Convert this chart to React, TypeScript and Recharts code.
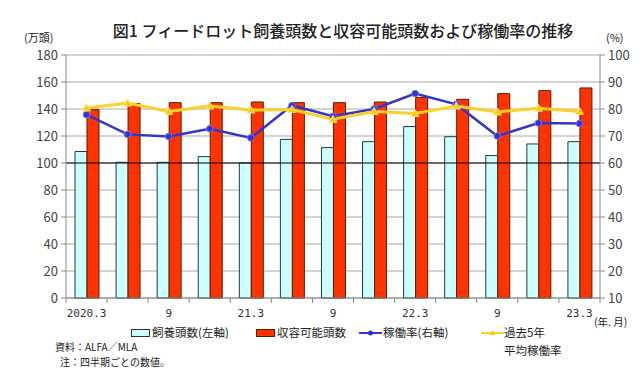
import React from 'react'
import {
  ComposedChart,
  Bar,
  Line,
  XAxis,
  YAxis,
  CartesianGrid,
  ReferenceLine,
} from 'recharts'

// 四半期
const quarters = [
  '2020.3', '2020.6', '2020.9', '2020.12',
  '2021.3', '2021.6', '2021.9', '2021.12',
  '2022.3', '2022.6', '2022.9', '2022.12',
  '2023.3',
]
const tickLabels = ['2020.3', '', '9', '', '21.3', '', '9', '', '22.3', '', '9', '', '23.3']

// 万頭
const feedlotHead = [108.5, 100.5, 100.5, 104.7, 100, 117.5, 111.4, 115.8, 127, 119.5, 105.5, 114.1, 115.8]
const capacityHead = [139.5, 144, 144.7, 144.7, 145.2, 144.7, 144.7, 145.2, 148.6, 147.2, 151.4, 153.6, 155.6]
// %
const utilization = [77.9, 70.6, 69.8, 72.7, 69.3, 81.3, 77.3, 80, 85.7, 81.7, 70, 74.8, 74.6]
const avg5y = [80.4, 82.2, 79.1, 81.1, 79.6, 79.8, 76.2, 79.1, 78.3, 81.1, 78.9, 80.3, 79.1]

const leftTicks = [0, 20, 40, 60, 80, 100, 120, 140, 160, 180]
const rightTicks = [10, 20, 30, 40, 50, 60, 70, 80, 90, 100]

const W = 640
const H = 371
const LEFT_W = 66
const RIGHT_W = 40
const BAND = (W - LEFT_W - RIGHT_W) / quarters.length

const data = quarters.map((q, i) => ({
  q,
  feedlot: feedlotHead[i],
  capacity: capacityHead[i],
  rate: utilization[i],
  avg: avg5y[i],
}))

const FONT = '"Noto Sans CJK JP", "Noto Sans", sans-serif'

function XTick(props: any) {
  const { x, y, index } = props
  const label = tickLabels[index]
  const half = BAND / 2
  return (
    <g>
      <line x1={x - half} x2={x - half} y1={y} y2={y + 5} stroke="#888" />
      {index === quarters.length - 1 && (
        <line x1={x + half} x2={x + half} y1={y} y2={y + 5} stroke="#888" />
      )}
      {label && (
        <text
          x={x}
          y={y + 19}
          textAnchor="middle"
          fontSize={11}
          fontFamily='"DejaVu Sans Mono", monospace'
          fill="#333"
        >
          {label}
        </text>
      )}
    </g>
  )
}

function Triangle(props: any) {
  const { cx, cy, index } = props
  if (cx == null || cy == null) return <g key={index} />
  return (
    <path
      key={index}
      d={`M${cx},${cy - 4} L${cx + 4},${cy + 3} L${cx - 4},${cy + 3} Z`}
      fill="#ffcc00"
      stroke="#ffe680"
      strokeWidth={1}
    />
  )
}

const abs = (left: number, top: number, extra: React.CSSProperties = {}): React.CSSProperties => ({
  position: 'absolute',
  left,
  top,
  whiteSpace: 'nowrap',
  lineHeight: 1,
  ...extra,
})

export default function App() {
  return (
    <div
      style={{
        position: 'relative',
        width: W,
        height: H,
        marginTop: -8,
        marginLeft: -8,
        background: '#fff',
        fontFamily: FONT,
        color: '#222',
        overflow: 'hidden',
      }}
    >
      <ComposedChart
        width={W}
        height={H}
        data={data}
        margin={{ top: 55, right: 0, bottom: 0, left: 0 }}
        barGap={0}
      >
        <CartesianGrid yAxisId="left" vertical={false} stroke="#a8a8a8" />
        <XAxis
          dataKey="q"
          interval={0}
          height={73}
          tickSize={0}
          tickMargin={0}
          axisLine={{ stroke: '#888' }}
          tick={<XTick />}
        />
        <YAxis
          yAxisId="left"
          width={LEFT_W}
          domain={[0, 180]}
          ticks={leftTicks}
          interval={0}
          axisLine={{ stroke: '#888' }}
          tickLine={{ stroke: '#888' }}
          tickSize={5}
          tickMargin={3}
          tick={{ fontSize: 13, fill: '#444', fontFamily: FONT }}
        />
        <YAxis
          yAxisId="right"
          orientation="right"
          width={RIGHT_W}
          domain={[10, 100]}
          ticks={rightTicks}
          interval={0}
          axisLine={{ stroke: '#888' }}
          tickLine={{ stroke: '#888' }}
          tickSize={5}
          tickMargin={3}
          tick={{ fontSize: 13, fill: '#444', fontFamily: FONT }}
        />
        <Bar
          yAxisId="left"
          dataKey="feedlot"
          barSize={12}
          fill="#ccffff"
          stroke="#1f3a3a"
          strokeWidth={1}
          isAnimationActive={false}
        />
        <Bar
          yAxisId="left"
          dataKey="capacity"
          barSize={12}
          fill="#ff3300"
          stroke="#5a1d00"
          strokeWidth={1}
          isAnimationActive={false}
        />
        <ReferenceLine yAxisId="left" y={100} stroke="#000" strokeWidth={1} />
        <Line
          yAxisId="right"
          dataKey="rate"
          stroke="#3535c8"
          strokeWidth={2.5}
          dot={{ r: 3.3, fill: '#3333cc', stroke: '#7777ee', strokeWidth: 1 }}
          isAnimationActive={false}
        />
        <Line
          yAxisId="right"
          dataKey="avg"
          stroke="#fcd02a"
          strokeWidth={3}
          dot={<Triangle />}
          isAnimationActive={false}
        />
      </ComposedChart>

      <div style={abs(0, 22, { width: 686, textAlign: 'center', fontSize: 16, fontWeight: 500 })}>
        図1 フィードロット飼養頭数と収容可能頭数および稼働率の推移
      </div>
      <div style={abs(24, 32, { fontSize: 11 })}>(万頭)</div>
      <div style={abs(606, 32, { fontSize: 11 })}>(%)</div>
      <div style={abs(594, 317, { fontSize: 10.5 })}>(年. 月)</div>

      {/* legend */}
      <div style={abs(131, 329, { width: 19, height: 8, background: '#ccffff', border: '1px solid #333', boxSizing: 'border-box' })} />
      <div style={abs(152, 327, { fontSize: 11.5 })}>飼養頭数(左軸)</div>
      <div style={abs(256, 329, { width: 19, height: 8, background: '#ff3300', border: '1px solid #5a1d00', boxSizing: 'border-box' })} />
      <div style={abs(277, 327, { fontSize: 11.5 })}>収容可能頭数</div>
      <svg style={abs(359, 328)} width={23} height={10}>
        <line x1={0} x2={23} y1={5} y2={5} stroke="#3535c8" strokeWidth={2} />
        <circle cx={11.5} cy={5} r={2.5} fill="#3333cc" />
      </svg>
      <div style={abs(383, 327, { fontSize: 11.5 })}>稼働率(右軸)</div>
      <svg style={abs(481, 328)} width={23} height={10}>
        <line x1={0} x2={23} y1={5} y2={5} stroke="#fcd02a" strokeWidth={2} />
        <path d="M11.5,2 L14.5,7 L8.5,7 Z" fill="#ffcc00" />
      </svg>
      <div style={abs(504, 327, { fontSize: 11.5 })}>過去5年</div>
      <div style={abs(504, 345, { fontSize: 11.5 })}>平均稼働率</div>

      <div style={abs(55, 342, { fontSize: 10 })}>資料：ALFA／MLA</div>
      <div style={abs(60, 357, { fontSize: 10 })}>注：四半期ごとの数値。</div>
    </div>
  )
}
